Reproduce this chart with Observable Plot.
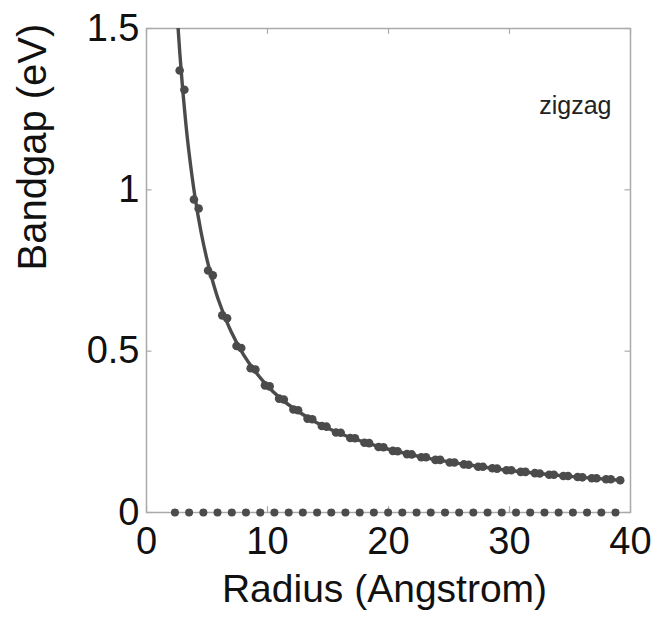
<!DOCTYPE html>
<html>
<head>
<meta charset="utf-8">
<script src="https://cdn.jsdelivr.net/npm/d3@7"></script>
<script src="https://cdn.jsdelivr.net/npm/@observablehq/plot@0.6"></script>
<style>
  html, body { margin: 0; padding: 0; background: #fff; }
  #chart { width: 652px; height: 625px; }
</style>
</head>
<body>
<div id="chart"></div>
<script>
// Semiconducting zigzag tubes: radius (Å) and band gap (eV)
const semiRadius = [2.74, 3.13, 3.92, 4.31, 5.09, 5.48, 6.26, 6.66, 7.44, 7.83, 8.61, 9.00, 9.79, 10.18, 10.96, 11.35,
  12.14, 12.53, 13.31, 13.70, 14.49, 14.88, 15.66, 16.05, 16.84, 17.23, 18.01, 18.40, 19.18, 19.58, 20.36, 20.75,
  21.53, 21.92, 22.71, 23.10, 23.88, 24.27, 25.06, 25.45, 26.23, 26.62, 27.41, 27.80, 28.58, 28.97, 29.75, 30.15,
  30.93, 31.32, 32.10, 32.50, 33.28, 33.67, 34.45, 34.84, 35.63, 36.02, 36.80, 37.19, 37.98, 38.37, 39.15];
const semiGap = [1.37, 1.31, 0.97, 0.942, 0.75, 0.735, 0.611, 0.602, 0.516, 0.510, 0.447, 0.443, 0.394, 0.391, 0.353, 0.350,
  0.319, 0.317, 0.291, 0.289, 0.268, 0.266, 0.248, 0.247, 0.231, 0.230, 0.216, 0.215, 0.203, 0.202, 0.191, 0.190,
  0.181, 0.180, 0.171, 0.171, 0.163, 0.163, 0.155, 0.155, 0.149, 0.148, 0.142, 0.142, 0.137, 0.136, 0.131, 0.131,
  0.126, 0.126, 0.122, 0.121, 0.117, 0.117, 0.113, 0.113, 0.110, 0.109, 0.106, 0.106, 0.103, 0.103, 0.100];

// Metallic zigzag tubes (gap = 0)
const metalRadius = [2.35, 3.52, 4.70, 5.87, 7.05, 8.22, 9.40, 10.57, 11.75, 12.92, 14.10, 15.27, 16.44, 17.62, 18.79, 19.97,
  21.14, 22.32, 23.49, 24.67, 25.84, 27.01, 28.19, 29.36, 30.54, 31.71, 32.89, 34.06, 35.24, 36.41, 37.59, 38.76];
const metalGap = metalRadius.map(() => 0);

// Fitted curve
const fitRadius = [2.5, 2.75, 3.0, 3.25, 3.5, 4.0, 4.5, 5.0, 5.5, 6.0, 7.0, 8.0, 9.0, 10, 11, 12, 14, 16, 18, 20, 23, 26, 29, 32, 35, 37, 39.15];
const fitGap = [1.568, 1.425, 1.307, 1.206, 1.12, 0.98, 0.871, 0.784, 0.713, 0.653, 0.56, 0.49, 0.436, 0.392, 0.356, 0.327,
  0.28, 0.245, 0.218, 0.196, 0.170, 0.151, 0.135, 0.1225, 0.112, 0.106, 0.100];

const xTicks = [0, 10, 20, 30, 40];
const xTickLabels = ["0", "10", "20", "30", "40"];
const yTicks = [0, 0.5, 1, 1.5];
const yTickLabels = ["0", "0.5", "1", "1.5"];
const xTitle = "Radius (Angstrom)";
const yTitle = "Bandgap (eV)";
const annotation = "zigzag";

const semi = semiRadius.map((r, i) => ({r, e: semiGap[i]}));
const metal = metalRadius.map((r, i) => ({r, e: metalGap[i]}));
const fit = fitRadius.map((r, i) => ({r, e: fitGap[i]}));

const font = "Liberation Sans, Arial, Helvetica, sans-serif";
const ink = "#4b4b4b";
const axisGray = "#aaaaaa";

const chart = Plot.plot({
  width: 652,
  height: 625,
  marginLeft: 146,
  marginRight: 22,
  marginTop: 28,
  marginBottom: 113,
  style: {fontFamily: font, background: "#fff"},
  x: {domain: [0, 40], axis: null},
  y: {domain: [0, 1.5], axis: null},
  marks: [
    Plot.frame({stroke: axisGray, strokeWidth: 1.5}),
    Plot.ruleX(xTicks, {x: d => d, y1: 0, y2: 0.018, stroke: axisGray, strokeWidth: 1.2}),
    Plot.ruleX(xTicks, {x: d => d, y1: 1.5, y2: 1.482, stroke: axisGray, strokeWidth: 1.2}),
    Plot.ruleY(yTicks, {y: d => d, x1: 0, x2: 0.45, stroke: axisGray, strokeWidth: 1.2}),
    Plot.ruleY(yTicks, {y: d => d, x1: 40, x2: 39.55, stroke: axisGray, strokeWidth: 1.2}),
    Plot.text(xTicks, {x: d => d, y: 0, dy: 29, text: (d, i) => xTickLabels[i], fontSize: 38, fill: "#111", fontFamily: font}),
    Plot.text(yTicks, {x: 0, y: d => d, dx: -7, textAnchor: "end", text: (d, i) => yTickLabels[i], fontSize: 38, fill: "#111", fontFamily: font}),
    Plot.text([xTitle], {frameAnchor: "bottom", dx: -4, dy: 89, text: d => d, fontSize: 39, fill: "#111", fontFamily: font}),
    Plot.text([yTitle], {frameAnchor: "left", dx: -113, rotate: -90, text: d => d, fontSize: 40, fill: "#111", fontFamily: font}),
    Plot.text([annotation], {frameAnchor: "top-right", dx: -19, dy: 68, textAnchor: "end", text: d => d, fontSize: 25, fill: "#222", fontFamily: font}),
    Plot.line(fit, {x: "r", y: "e", stroke: ink, strokeWidth: 3.4, curve: "catmull-rom", clip: true}),
    Plot.dot(semi, {x: "r", y: "e", r: 4.3, fill: ink, stroke: "none"}),
    Plot.dot(metal, {x: "r", y: "e", r: 4, fill: ink, stroke: "none"})
  ]
});
document.getElementById("chart").appendChild(chart);
</script>
</body>
</html>
